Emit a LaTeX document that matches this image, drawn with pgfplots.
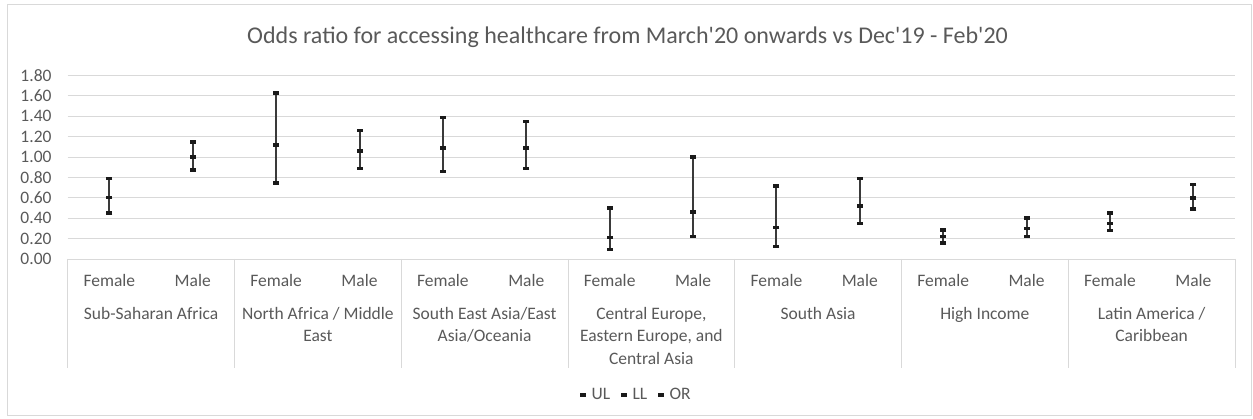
\documentclass[border=0pt]{standalone}
\usepackage{pgfplots}
\pgfplotsset{compat=1.18}
\usepackage{pgfplotstable}
\usepackage{fontspec}
\setmainfont{Carlito}
\definecolor{txt}{HTML}{595959}
\definecolor{grd}{HTML}{D9D9D9}
\definecolor{vbar}{HTML}{3A3A3A}
\definecolor{mk}{HTML}{1A1A1A}
\pgfplotstableread{
x ul ll or
0 0.79 0.45 0.605
1 1.15 0.875 1.00
2 1.63 0.745 1.12
3 1.26 0.89 1.06
4 1.39 0.86 1.09
5 1.35 0.89 1.09
6 0.50 0.095 0.21
7 1.00 0.22 0.46
8 0.715 0.125 0.31
9 0.79 0.35 0.52
10 0.285 0.155 0.22
11 0.40 0.22 0.30
12 0.45 0.28 0.35
13 0.73 0.49 0.60
}\data
\begin{document}
\begin{tikzpicture}[x=1pt,y=1pt]
\path (0,0) rectangle (1253,419);
\draw[grd, line width=0.8pt] (7.3,3.5) rectangle (1251.3,415);
\node[anchor=base, font=\fontsize{24}{28}\selectfont, text=txt, inner sep=0pt] at (627.5,375.7) {Odds ratio for accessing healthcare from March\textquotesingle 20 onwards vs Dec\textquotesingle 19 - Feb\textquotesingle 20};
\begin{axis}[
  at={(67.7pt,160pt)}, anchor=south west,
  scale only axis, width=1167.3pt, height=183.5pt,
  xmin=-0.5, xmax=13.5, ymin=0, ymax=1.8,
  ytick={0,0.2,0.4,0.6,0.8,1.0,1.2,1.4,1.6,1.8},
  /pgf/number format/fixed, /pgf/number format/fixed zerofill,
  /pgf/number format/precision=2, /pgf/number format/assume math mode=true,
  ymajorgrids, grid style={grd, line width=0.8pt},
  axis line style={draw=none},
  major tick length=0pt,
  xtick={0,...,13},
  xticklabels={Female,Male,Female,Male,Female,Male,Female,Male,Female,Male,Female,Male,Female,Male},
  xticklabel style={anchor=base, yshift=-27.7pt, font=\fontsize{17.5}{21}\selectfont, text=txt},
  yticklabel style={anchor=east, inner sep=0pt, xshift=-16pt, font=\fontsize{17.5}{21}\selectfont, text=txt},
  clip=false,
  legend style={at={(0.4868,-0.741)}, anchor=center, draw=none, fill=none, legend columns=3,
    font=\fontsize{17.5}{21}\selectfont, text=txt,
    /tikz/every odd column/.append style={column sep=5pt},
    /tikz/every even column/.append style={column sep=10pt},
    nodes={inner sep=1pt}},
  legend image code/.code={\fill[mk] (0pt,-1.6pt) rectangle (5pt,1.6pt);},
]
\addplot[draw=none, forget plot, error bars/.cd, y dir=plus, y explicit, error mark=none,
  error bar style={line width=2pt, vbar}]
  table[x=x, y=ll, y error expr=\thisrow{ul}-\thisrow{ll}] {\data};
\addplot[only marks, mark=-, mark size=3pt, mark options={line width=3.5pt, mk}] table[x=x, y=ul] {\data};
\addplot[only marks, mark=-, mark size=3pt, mark options={line width=3.5pt, mk}] table[x=x, y=ll] {\data};
\addplot[only marks, mark=-, mark size=3pt, mark options={line width=3.5pt, mk}] table[x=x, y=or] {\data};
\legend{UL,LL,OR}
\pgfplotsinvokeforeach{-0.5,1.5,3.5,5.5,7.5,9.5,11.5,13.5}{
  \draw[grd, line width=0.8pt] (axis cs:#1,0) -- ++(0pt,-109pt);
}
\tikzset{grp/.style={anchor=base, inner sep=0pt, font=\fontsize{17.5}{21}\selectfont, text=txt}}
\node[grp, yshift=-60.3pt] at (axis cs:0.5,0) {Sub-Saharan Africa};
\node[grp, yshift=-60.3pt] at (axis cs:2.5,0) {North Africa / Middle};
\node[grp, yshift=-82.7pt] at (axis cs:2.5,0) {East};
\node[grp, yshift=-60.3pt] at (axis cs:4.5,0) {South East Asia/East};
\node[grp, yshift=-82.7pt] at (axis cs:4.5,0) {Asia/Oceania};
\node[grp, yshift=-60.3pt] at (axis cs:6.5,0) {Central Europe,};
\node[grp, yshift=-82.7pt] at (axis cs:6.5,0) {Eastern Europe, and};
\node[grp, yshift=-105.1pt] at (axis cs:6.5,0) {Central Asia};
\node[grp, yshift=-60.3pt] at (axis cs:8.5,0) {South Asia};
\node[grp, yshift=-60.3pt] at (axis cs:10.5,0) {High Income};
\node[grp, yshift=-60.3pt] at (axis cs:12.5,0) {Latin America /};
\node[grp, yshift=-82.7pt] at (axis cs:12.5,0) {Caribbean};
\end{axis}
\end{tikzpicture}
\end{document}
